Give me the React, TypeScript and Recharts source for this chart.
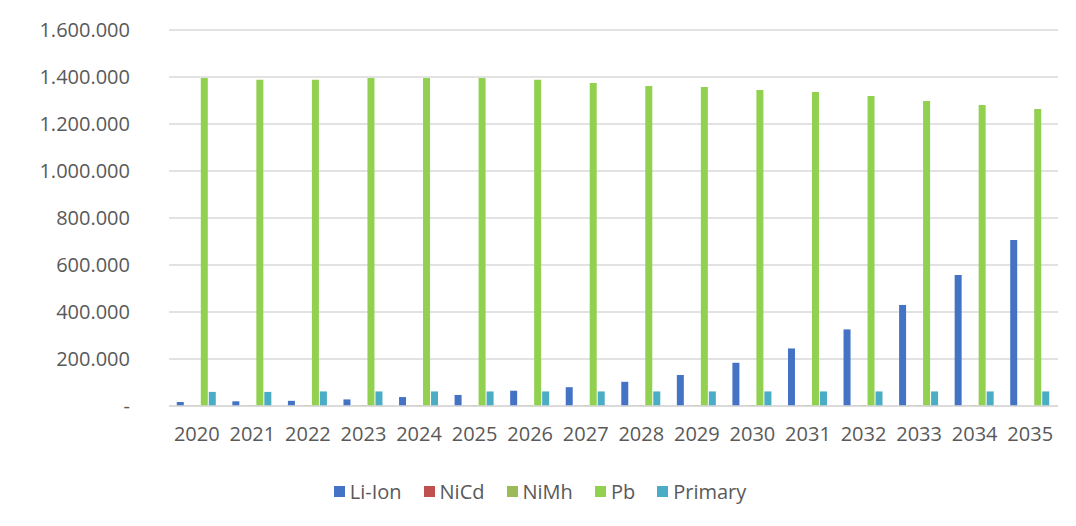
import React from "react";
import { BarChart, Bar, XAxis, YAxis, CartesianGrid, Legend, Customized } from "recharts";

const years = ["2020", "2021", "2022", "2023", "2024", "2025", "2026", "2027", "2028", "2029", "2030", "2031", "2032", "2033", "2034", "2035"];
const liIon = [17000, 20000, 22000, 28000, 38000, 47000, 65000, 80000, 103000, 132000, 184000, 245000, 326000, 430000, 557000, 706000];
const niCd = [1000, 1000, 1000, 1000, 1000, 1000, 1000, 1000, 1000, 1000, 1000, 1000, 1000, 1000, 1000, 0];
const niMh = [2000, 3000, 4000, 4000, 4000, 4000, 4000, 4000, 4000, 4000, 4000, 4000, 4000, 4000, 4000, 0];
const pb = [1396000, 1388000, 1388000, 1396000, 1396000, 1396000, 1388000, 1374000, 1362000, 1357000, 1345000, 1336000, 1319000, 1298000, 1281000, 1264000];
const primary = [60000, 60000, 62000, 62000, 62000, 62000, 62000, 62000, 62000, 62000, 62000, 62000, 62000, 62000, 62000, 62000];
const yTicks = [0, 200000, 400000, 600000, 800000, 1000000, 1200000, 1400000, 1600000];

const series = [
	{ key: "Li-Ion", values: liIon, color: "#4472C4" },
	{ key: "NiCd", values: niCd, color: "#C0504D" },
	{ key: "NiMh", values: niMh, color: "#9BBB59" },
	{ key: "Pb", values: pb, color: "#92D050" },
	{ key: "Primary", values: primary, color: "#4BACC6" },
];

const data = years.map((year, i) => {
	const row: any = { year };
	series.forEach((s) => {
		row[s.key] = s.values[i];
	});
	return row;
});

const formatY = (v: number) => {
	if (v === 0) return "-";
	return String(v).replace(/\B(?=(\d{3})+(?!\d))/g, ".");
};

const FONT = "'Open Sans', sans-serif";

// light blue frame along the top and left edge, like the screenshot's window border
const Frame = () => (
	<path d="M7,526 L7,7 L1076,7" fill="none" stroke="#5B9BD5" strokeWidth={2} />
);

const CustomLegend = () => (
	<div
		style={{
			display: "flex",
			justifyContent: "center",
			gap: 22,
			paddingLeft: 22,
			paddingTop: 12,
			fontFamily: FONT,
			fontSize: 20,
			color: "#595959",
		}}>
		{series.map((s) => (
			<div key={s.key} style={{ display: "flex", alignItems: "center", gap: 5 }}>
				<div style={{ width: 11, height: 11, background: s.color }} />
				<span>{s.key}</span>
			</div>
		))}
	</div>
);

export default function App() {
	return (
		<div style={{ margin: -8, width: 1076, height: 526, background: "#fff" }}>
			<BarChart
				width={1076}
				height={526}
				data={data}
				margin={{ top: 30, right: 18, bottom: 6, left: 0 }}
				barCategoryGap="14%"
				barGap={1}>
				<CartesianGrid vertical={false} stroke="#D9D9D9" strokeWidth={1.5} />
				<XAxis
					dataKey="year"
					axisLine={{ stroke: "#D9D9D9", strokeWidth: 1.5 }}
					tickLine={false}
					tickSize={0}
					tickMargin={21}
					height={60}
					interval={0}
					tick={{ fontSize: 20, fill: "#595959", fontFamily: FONT }}
				/>
				<YAxis
					width={169}
					domain={[0, 1600000]}
					ticks={yTicks}
					tickFormatter={formatY}
					axisLine={false}
					tickLine={false}
					tickSize={0}
					tickMargin={39}
					tick={{ fontSize: 20, fill: "#595959", fontFamily: FONT }}
				/>
				<Legend verticalAlign="bottom" height={54} content={<CustomLegend />} />
				{series.map((s) => (
					<Bar key={s.key} dataKey={s.key} fill={s.color} isAnimationActive={false} />
				))}
				<Customized component={Frame} />
			</BarChart>
		</div>
	);
}
